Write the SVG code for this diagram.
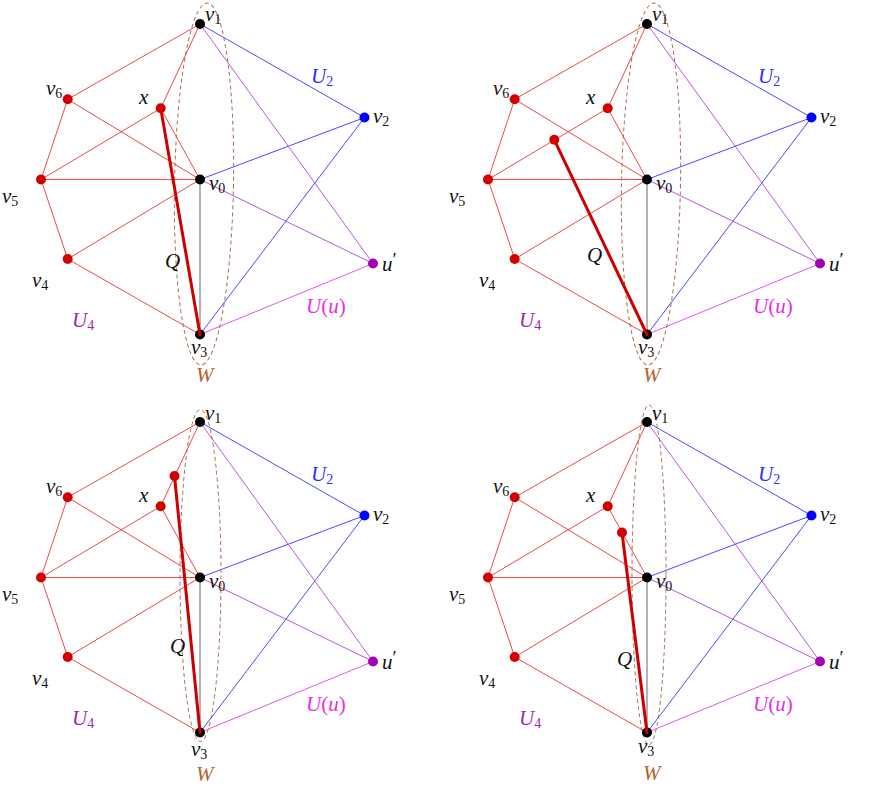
<svg xmlns="http://www.w3.org/2000/svg" width="885" height="787" viewBox="0 0 885 787">
<style>
line{stroke-width:1;fill:none}
.er{stroke:#ee4848}
.eb{stroke:#4a4aff}
.ep{stroke:#b858da}
.em{stroke:#dc58ec}
.ek{stroke:#555555;stroke-width:0.9}
.q{stroke:#cc0000;stroke-width:3;stroke-linecap:round}
.w{fill:none;stroke:#a8704f;stroke-width:1;stroke-dasharray:4 3}
.nk{fill:#000000}
.nr{fill:#d40000}
.nb{fill:#0000ff}
.np{fill:#a400b4}
text{font-family:"Liberation Serif","DejaVu Serif",serif;font-style:italic;font-size:21px;fill:#111111}
.s{font-size:14px;font-style:normal}
.up{font-style:normal}
.pr{font-style:normal;font-size:19px}
.lU2{fill:#2b2bff}
.lUu{fill:#e22ee8}
.lU4{fill:#9a28aa}
.lW{fill:#b3622a}
</style>

<!-- Panel 1 -->
<g id="panel1">
<g id="p1-connectors">
<line class="er" x1="200" y1="24" x2="67.7" y2="99.3"/>
<line class="er" x1="200" y1="24" x2="160.7" y2="108.3"/>
<line class="er" x1="67.7" y1="99.3" x2="41" y2="179.5"/>
<line class="er" x1="67.7" y1="99.3" x2="200" y2="179.5"/>
<line class="er" x1="41" y1="179.5" x2="160.7" y2="108.3"/>
<line class="er" x1="41" y1="179.5" x2="200" y2="179.5"/>
<line class="er" x1="41" y1="179.5" x2="67.7" y2="259"/>
<line class="er" x1="67.7" y1="259" x2="200" y2="179.5"/>
<line class="er" x1="67.7" y1="259" x2="200" y2="334.5"/>
<line class="er" x1="160.7" y1="108.3" x2="200" y2="179.5"/>
<line class="eb" x1="200" y1="24" x2="364.5" y2="117.5"/>
<line class="eb" x1="364.5" y1="117.5" x2="200" y2="179.5"/>
<line class="eb" x1="364.5" y1="117.5" x2="200" y2="334.5"/>
<line class="ep" x1="200" y1="24" x2="373" y2="263.5"/>
<line class="ep" x1="200" y1="179.5" x2="373" y2="263.5"/>
<line class="em" x1="373" y1="263.5" x2="200" y2="334.5"/>
<line class="ek" x1="200" y1="179.5" x2="200" y2="334.5"/>
</g>
<ellipse id="p1-W" class="w" cx="204" cy="184" rx="29.5" ry="181" transform="rotate(1 204 184)"/>
<g id="p1-v1"><circle class="nk" cx="200" cy="24" r="5"/><text x="205" y="21">v<tspan class="s" dy="3">1</tspan></text></g>
<g id="p1-v2"><circle class="nb" cx="364.5" cy="117.5" r="5"/><text x="373" y="123">v<tspan class="s" dy="3">2</tspan></text></g>
<g id="p1-v0"><circle class="nk" cx="200" cy="179.5" r="5"/><text x="209" y="190">v<tspan class="s" dy="3">0</tspan></text></g>
<g id="p1-u"><circle class="np" cx="373" cy="263.5" r="5"/><text x="382" y="271">u<tspan class="pr" dy="-5">′</tspan></text></g>
<g id="p1-v3"><circle class="nk" cx="200" cy="334.5" r="5"/><text x="191" y="354">v<tspan class="s" dy="3">3</tspan></text></g>
<g id="p1-v4"><circle class="nr" cx="67.7" cy="259" r="5"/><text x="32" y="287">v<tspan class="s" dy="3">4</tspan></text></g>
<g id="p1-v5"><circle class="nr" cx="41" cy="179.5" r="5"/><text x="2" y="203">v<tspan class="s" dy="3">5</tspan></text></g>
<g id="p1-v6"><circle class="nr" cx="67.7" cy="99.3" r="5"/><text x="46" y="95">v<tspan class="s" dy="3">6</tspan></text></g>
<g id="p1-x"><circle class="nr" cx="160.7" cy="108.3" r="5"/><text x="139" y="104">x</text></g>
<g id="p1-Q"><line class="q" x1="160.7" y1="108.3" x2="200" y2="334.5"/><text x="165" y="268">Q</text></g>
<text class="lU2" x="311" y="83">U<tspan class="s" dy="3">2</tspan></text>
<text class="lUu" x="306" y="313">U<tspan class="up">(</tspan>u<tspan class="up">)</tspan></text>
<text class="lU4" x="72" y="327">U<tspan class="s" dy="3">4</tspan></text>
<text class="lW" x="196" y="382">W</text>
</g>

<!-- Panel 2 -->
<g id="panel2" transform="translate(447,0)">
<g id="p2-connectors">
<line class="er" x1="200" y1="24" x2="67.7" y2="99.3"/>
<line class="er" x1="200" y1="24" x2="160.7" y2="108.3"/>
<line class="er" x1="67.7" y1="99.3" x2="41" y2="179.5"/>
<line class="er" x1="67.7" y1="99.3" x2="200" y2="179.5"/>
<line class="er" x1="41" y1="179.5" x2="160.7" y2="108.3"/>
<line class="er" x1="41" y1="179.5" x2="200" y2="179.5"/>
<line class="er" x1="41" y1="179.5" x2="67.7" y2="259"/>
<line class="er" x1="67.7" y1="259" x2="200" y2="179.5"/>
<line class="er" x1="67.7" y1="259" x2="200" y2="334.5"/>
<line class="er" x1="160.7" y1="108.3" x2="200" y2="179.5"/>
<line class="eb" x1="200" y1="24" x2="364.5" y2="117.5"/>
<line class="eb" x1="364.5" y1="117.5" x2="200" y2="179.5"/>
<line class="eb" x1="364.5" y1="117.5" x2="200" y2="334.5"/>
<line class="ep" x1="200" y1="24" x2="373" y2="263.5"/>
<line class="ep" x1="200" y1="179.5" x2="373" y2="263.5"/>
<line class="em" x1="373" y1="263.5" x2="200" y2="334.5"/>
<line class="ek" x1="200" y1="179.5" x2="200" y2="334.5"/>
</g>
<ellipse id="p2-W" class="w" cx="204" cy="184" rx="29.5" ry="181" transform="rotate(1 204 184)"/>
<g id="p2-v1"><circle class="nk" cx="200" cy="24" r="5"/><text x="205" y="21">v<tspan class="s" dy="3">1</tspan></text></g>
<g id="p2-v2"><circle class="nb" cx="364.5" cy="117.5" r="5"/><text x="373" y="123">v<tspan class="s" dy="3">2</tspan></text></g>
<g id="p2-v0"><circle class="nk" cx="200" cy="179.5" r="5"/><text x="209" y="190">v<tspan class="s" dy="3">0</tspan></text></g>
<g id="p2-u"><circle class="np" cx="373" cy="263.5" r="5"/><text x="382" y="271">u<tspan class="pr" dy="-5">′</tspan></text></g>
<g id="p2-v3"><circle class="nk" cx="200" cy="334.5" r="5"/><text x="191" y="354">v<tspan class="s" dy="3">3</tspan></text></g>
<g id="p2-v4"><circle class="nr" cx="67.7" cy="259" r="5"/><text x="32" y="287">v<tspan class="s" dy="3">4</tspan></text></g>
<g id="p2-v5"><circle class="nr" cx="41" cy="179.5" r="5"/><text x="2" y="203">v<tspan class="s" dy="3">5</tspan></text></g>
<g id="p2-v6"><circle class="nr" cx="67.7" cy="99.3" r="5"/><text x="46" y="95">v<tspan class="s" dy="3">6</tspan></text></g>
<g id="p2-x"><circle class="nr" cx="160.7" cy="108.3" r="5"/><text x="139" y="104">x</text></g>
<g id="p2-y"><circle class="nr" cx="107.3" cy="139.8" r="5"/></g>
<g id="p2-Q"><line class="q" x1="107.3" y1="139.8" x2="200" y2="334.5"/><text x="140" y="262">Q</text></g>
<text class="lU2" x="311" y="83">U<tspan class="s" dy="3">2</tspan></text>
<text class="lUu" x="306" y="313">U<tspan class="up">(</tspan>u<tspan class="up">)</tspan></text>
<text class="lU4" x="72" y="327">U<tspan class="s" dy="3">4</tspan></text>
<text class="lW" x="196" y="382">W</text>
</g>

<!-- Panel 3 -->
<g id="panel3" transform="translate(0,398)">
<g id="p3-connectors">
<line class="er" x1="200" y1="24" x2="67.7" y2="99.3"/>
<line class="er" x1="200" y1="24" x2="160.7" y2="108.3"/>
<line class="er" x1="67.7" y1="99.3" x2="41" y2="179.5"/>
<line class="er" x1="67.7" y1="99.3" x2="200" y2="179.5"/>
<line class="er" x1="41" y1="179.5" x2="160.7" y2="108.3"/>
<line class="er" x1="41" y1="179.5" x2="200" y2="179.5"/>
<line class="er" x1="41" y1="179.5" x2="67.7" y2="259"/>
<line class="er" x1="67.7" y1="259" x2="200" y2="179.5"/>
<line class="er" x1="67.7" y1="259" x2="200" y2="334.5"/>
<line class="er" x1="160.7" y1="108.3" x2="200" y2="179.5"/>
<line class="eb" x1="200" y1="24" x2="364.5" y2="117.5"/>
<line class="eb" x1="364.5" y1="117.5" x2="200" y2="179.5"/>
<line class="eb" x1="364.5" y1="117.5" x2="200" y2="334.5"/>
<line class="ep" x1="200" y1="24" x2="373" y2="263.5"/>
<line class="ep" x1="200" y1="179.5" x2="373" y2="263.5"/>
<line class="em" x1="373" y1="263.5" x2="200" y2="334.5"/>
<line class="ek" x1="200" y1="179.5" x2="200" y2="334.5"/>
</g>
<ellipse id="p3-W" class="w" cx="200.5" cy="177.5" rx="20.5" ry="166"/>
<g id="p3-v1"><circle class="nk" cx="200" cy="24" r="5"/><text x="205" y="22">v<tspan class="s" dy="3">1</tspan></text></g>
<g id="p3-v2"><circle class="nb" cx="364.5" cy="117.5" r="5"/><text x="373" y="123">v<tspan class="s" dy="3">2</tspan></text></g>
<g id="p3-v0"><circle class="nk" cx="200" cy="179.5" r="5"/><text x="209" y="190">v<tspan class="s" dy="3">0</tspan></text></g>
<g id="p3-u"><circle class="np" cx="373" cy="263.5" r="5"/><text x="382" y="271">u<tspan class="pr" dy="-5">′</tspan></text></g>
<g id="p3-v3"><circle class="nk" cx="200" cy="334.5" r="5"/><text x="191" y="358">v<tspan class="s" dy="3">3</tspan></text></g>
<g id="p3-v4"><circle class="nr" cx="67.7" cy="259" r="5"/><text x="32" y="287">v<tspan class="s" dy="3">4</tspan></text></g>
<g id="p3-v5"><circle class="nr" cx="41" cy="179.5" r="5"/><text x="2" y="203">v<tspan class="s" dy="3">5</tspan></text></g>
<g id="p3-v6"><circle class="nr" cx="67.7" cy="99.3" r="5"/><text x="46" y="95">v<tspan class="s" dy="3">6</tspan></text></g>
<g id="p3-x"><circle class="nr" cx="160.7" cy="108.3" r="5"/><text x="139" y="104">x</text></g>
<g id="p3-y"><circle class="nr" cx="174.5" cy="78" r="5"/></g>
<g id="p3-Q"><line class="q" x1="174.5" y1="78" x2="200" y2="334.5"/><text x="170" y="255">Q</text></g>
<text class="lU2" x="311" y="83">U<tspan class="s" dy="3">2</tspan></text>
<text class="lUu" x="306" y="313">U<tspan class="up">(</tspan>u<tspan class="up">)</tspan></text>
<text class="lU4" x="72" y="327">U<tspan class="s" dy="3">4</tspan></text>
<text class="lW" x="196" y="383">W</text>
</g>

<!-- Panel 4 -->
<g id="panel4" transform="translate(447,398)">
<g id="p4-connectors">
<line class="er" x1="200" y1="24" x2="67.7" y2="99.3"/>
<line class="er" x1="200" y1="24" x2="160.7" y2="108.3"/>
<line class="er" x1="67.7" y1="99.3" x2="41" y2="179.5"/>
<line class="er" x1="67.7" y1="99.3" x2="200" y2="179.5"/>
<line class="er" x1="41" y1="179.5" x2="160.7" y2="108.3"/>
<line class="er" x1="41" y1="179.5" x2="200" y2="179.5"/>
<line class="er" x1="41" y1="179.5" x2="67.7" y2="259"/>
<line class="er" x1="67.7" y1="259" x2="200" y2="179.5"/>
<line class="er" x1="67.7" y1="259" x2="200" y2="334.5"/>
<line class="er" x1="160.7" y1="108.3" x2="200" y2="179.5"/>
<line class="eb" x1="200" y1="24" x2="364.5" y2="117.5"/>
<line class="eb" x1="364.5" y1="117.5" x2="200" y2="179.5"/>
<line class="eb" x1="364.5" y1="117.5" x2="200" y2="334.5"/>
<line class="ep" x1="200" y1="24" x2="373" y2="263.5"/>
<line class="ep" x1="200" y1="179.5" x2="373" y2="263.5"/>
<line class="em" x1="373" y1="263.5" x2="200" y2="334.5"/>
<line class="ek" x1="200" y1="179.5" x2="200" y2="334.5"/>
</g>
<ellipse id="p4-W" class="w" cx="202" cy="177" rx="17" ry="170"/>
<g id="p4-v1"><circle class="nk" cx="200" cy="24" r="5"/><text x="205" y="22">v<tspan class="s" dy="3">1</tspan></text></g>
<g id="p4-v2"><circle class="nb" cx="364.5" cy="117.5" r="5"/><text x="373" y="123">v<tspan class="s" dy="3">2</tspan></text></g>
<g id="p4-v0"><circle class="nk" cx="200" cy="179.5" r="5"/><text x="209" y="190">v<tspan class="s" dy="3">0</tspan></text></g>
<g id="p4-u"><circle class="np" cx="373" cy="263.5" r="5"/><text x="382" y="271">u<tspan class="pr" dy="-5">′</tspan></text></g>
<g id="p4-v3"><circle class="nk" cx="200" cy="334.5" r="5"/><text x="191" y="355">v<tspan class="s" dy="3">3</tspan></text></g>
<g id="p4-v4"><circle class="nr" cx="67.7" cy="259" r="5"/><text x="32" y="287">v<tspan class="s" dy="3">4</tspan></text></g>
<g id="p4-v5"><circle class="nr" cx="41" cy="179.5" r="5"/><text x="2" y="203">v<tspan class="s" dy="3">5</tspan></text></g>
<g id="p4-v6"><circle class="nr" cx="67.7" cy="99.3" r="5"/><text x="46" y="95">v<tspan class="s" dy="3">6</tspan></text></g>
<g id="p4-x"><circle class="nr" cx="160.7" cy="108.3" r="5"/><text x="139" y="104">x</text></g>
<g id="p4-y"><circle class="nr" cx="175" cy="134.5" r="5"/></g>
<g id="p4-Q"><line class="q" x1="175" y1="134.5" x2="200" y2="334.5"/><text x="170" y="268">Q</text></g>
<text class="lU2" x="311" y="83">U<tspan class="s" dy="3">2</tspan></text>
<text class="lUu" x="306" y="313">U<tspan class="up">(</tspan>u<tspan class="up">)</tspan></text>
<text class="lU4" x="72" y="327">U<tspan class="s" dy="3">4</tspan></text>
<text class="lW" x="196" y="382">W</text>
</g>
</svg>
